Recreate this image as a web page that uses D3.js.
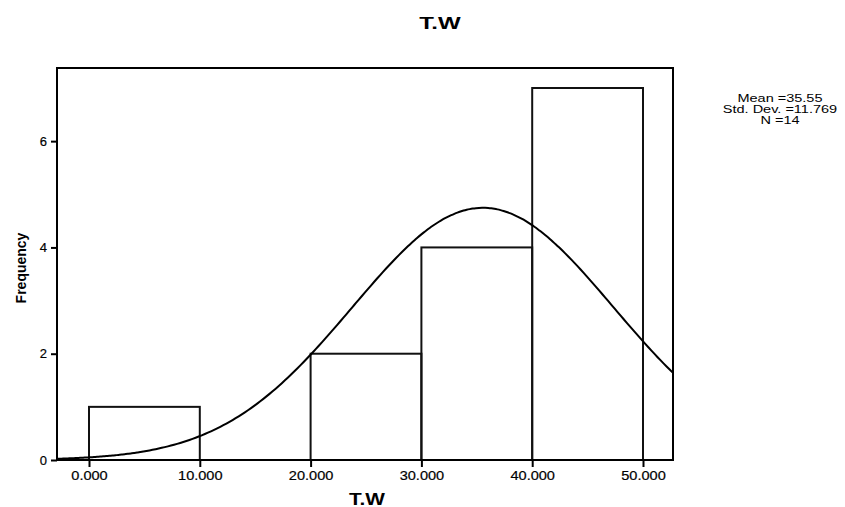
<!DOCTYPE html>
<html>
<head>
<meta charset="utf-8">
<script src="https://cdn.jsdelivr.net/npm/d3@7"></script>
<style>
  body { margin: 0; background: #fff; }
  text { font-family: "Liberation Sans", Arial, sans-serif; fill: #000; }
</style>
</head>
<body>
<div class="chartArea"></div>
<script>
// histogram data
const binStarts = [0, 10, 20, 30, 40]
const binCounts = [1, 0, 2, 4, 7]
const binWidth = 10
const xTicks = [0, 10, 20, 30, 40, 50]
const yTicks = [0, 2, 4, 6]
const stats = { mean: 35.55, sd: 11.769, n: 14 }
const legendLines = ['Mean =35.55', 'Std. Dev. =11.769', 'N =14']

const width = 845, height = 507
const frame = { left: 57, right: 673, top: 68, bottom: 460 }

const svg = d3.select('.chartArea')
  .append('svg')
  .attr('width', width)
  .attr('height', height)

// helper: stretch a text sideways like the scanned original
function stretch(sel, factor) {
  sel.each(function() {
    const w = this.getComputedTextLength()
    d3.select(this).attr('textLength', w * factor).attr('lengthAdjust', 'spacingAndGlyphs')
  })
}

// x: 0 -> 89px, 50 -> 643px
const xScale = d3.scaleLinear().domain([0, 50]).range([89, 643])
// y: 0 -> 460px, 7 -> 88px
const yScale = d3.scaleLinear().domain([0, 7]).range([460, 88])

// bars
svg.append('g')
  .selectAll('rect')
  .data(binStarts.map((s, i) => ({ x0: s, x1: s + binWidth, n: binCounts[i] })).filter(d => d.n > 0))
  .enter()
  .append('rect')
  .attr('x', d => xScale(d.x0))
  .attr('y', d => yScale(d.n))
  .attr('width', d => xScale(d.x1) - xScale(d.x0))
  .attr('height', d => yScale(0) - yScale(d.n))
  .attr('fill', 'none')
  .attr('stroke', '#111')
  .attr('stroke-width', 2)

// normal curve scaled to counts
const xMin = xScale.invert(frame.left), xMax = xScale.invert(frame.right)
const curve = d3.range(0, 201).map(i => {
  const x = xMin + (xMax - xMin) * i / 200
  const z = (x - stats.mean) / stats.sd
  const y = stats.n * binWidth * Math.exp(-0.5 * z * z) / (stats.sd * Math.sqrt(2 * Math.PI))
  return [x, y]
})
svg.append('path')
  .datum(curve)
  .attr('fill', 'none')
  .attr('stroke', '#000')
  .attr('stroke-width', 2)
  .attr('d', d3.line().x(d => xScale(d[0])).y(d => yScale(d[1])).curve(d3.curveBasis))

// frame
svg.append('rect')
  .attr('x', frame.left)
  .attr('y', frame.top)
  .attr('width', frame.right - frame.left)
  .attr('height', frame.bottom - frame.top)
  .attr('fill', 'none')
  .attr('stroke', '#000')
  .attr('stroke-width', 2)

// axes
const xAxis = d3.axisBottom(xScale)
  .tickValues(xTicks)
  .tickFormat(d3.format('.3f'))
  .tickSize(7)
  .tickSizeOuter(0)
const gx = svg.append('g')
  .attr('transform', `translate(0, ${frame.bottom})`)
  .call(xAxis)
gx.select('.domain').remove()
gx.selectAll('line').attr('stroke', '#000').attr('stroke-width', 2)
gx.selectAll('text')
  .attr('font-size', 13)
  .attr('y', 20).attr('dy', null)
  .attr('stroke', '#000').attr('stroke-width', 0.2)
gx.selectAll('text').call(stretch, 1.12)

const yAxis = d3.axisLeft(yScale)
  .tickValues(yTicks)
  .tickFormat(d3.format('d'))
  .tickSize(6)
  .tickSizeOuter(0)
const gy = svg.append('g')
  .attr('transform', `translate(${frame.left}, 0)`)
  .call(yAxis)
gy.select('.domain').remove()
gy.selectAll('line').attr('stroke', '#000').attr('stroke-width', 2)
gy.selectAll('text')
  .attr('font-size', 13).attr('x', -10)
  .attr('stroke', '#000').attr('stroke-width', 0.2)

// titles
svg.append('text')
  .attr('x', 440).attr('y', 29)
  .attr('text-anchor', 'middle')
  .attr('font-size', 16).attr('font-weight', 'bold')
  .text('T.W')
  .call(stretch, 1.5)

svg.append('text')
  .attr('x', 367).attr('y', 505)
  .attr('text-anchor', 'middle')
  .attr('font-size', 16).attr('font-weight', 'bold')
  .text('T.W')
  .call(stretch, 1.3)

svg.append('text')
  .attr('transform', 'translate(26, 268) rotate(-90)')
  .attr('text-anchor', 'middle')
  .attr('font-size', 14).attr('font-weight', 'bold')
  .text('Frequency')

// stats legend
svg.append('g')
  .selectAll('text')
  .data(legendLines)
  .enter()
  .append('text')
  .attr('x', 780)
  .attr('y', (d, i) => 102 + i * 11)
  .attr('text-anchor', 'middle')
  .attr('font-size', 10)
  .text(d => d)
  .call(stretch, 1.45)
</script>
</body>
</html>
